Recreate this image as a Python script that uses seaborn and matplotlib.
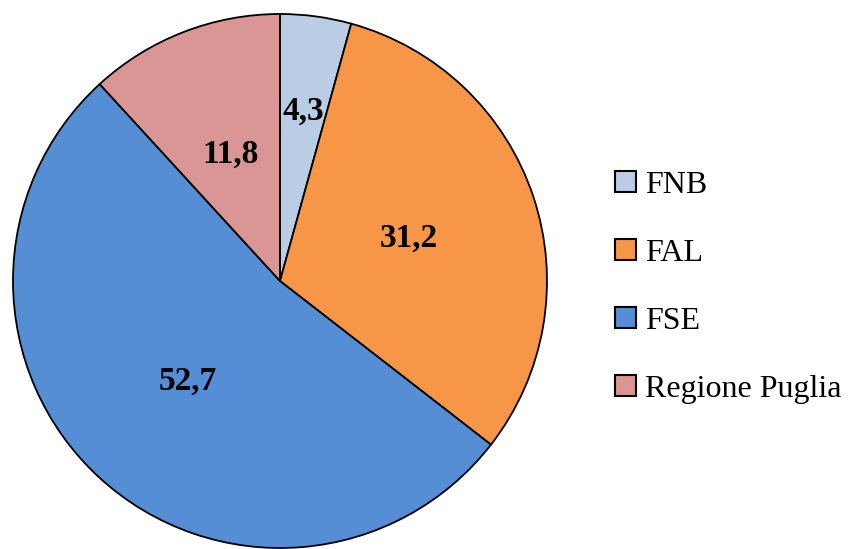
import numpy as np
import matplotlib
matplotlib.use("Agg")
import matplotlib.pyplot as plt
import seaborn as sns
from matplotlib.patches import Patch

# data
categories = ["FNB", "FAL", "FSE", "Regione Puglia"]
shares = [4.3, 31.2, 52.7, 11.8]
colors = ["#B9CDE5", "#F79646", "#558ED5", "#D99694"]
label_text = ["4,3", "31,2", "52,7", "11,8"]

sns.set_theme(style="white")
plt.rcParams['font.family'] = ['Liberation Serif', 'DejaVu Serif']
plt.rcParams['text.color'] = 'black'

fig = plt.figure(figsize=(8.6, 5.49), dpi=100)
ax = fig.add_axes([13 / 860, 1 / 549, 534 / 860, 534 / 549])

wedges, _ = ax.pie(shares, colors=colors, startangle=90, counterclock=False,
                   radius=1,
                   wedgeprops=dict(edgecolor="black", linewidth=1.3))
for w in wedges:
    w.set_clip_on(False)

# value labels inside the wedges
for i, w in enumerate(wedges):
    mid = np.deg2rad((w.theta1 + w.theta2) / 2)
    dist = 0.64 if i == 0 else 0.51
    ax.text(dist * np.cos(mid), dist * np.sin(mid), label_text[i],
            ha="center", va="center", fontsize=24, fontweight="bold", color="black")

ax.set_xlim(-1, 1)
ax.set_ylim(-1, 1)
ax.set_aspect("equal")
ax.axis("off")

handles = [Patch(facecolor=c, edgecolor="black", linewidth=1.5) for c in colors]
leg = fig.legend(handles, categories, loc="center left", bbox_to_anchor=(615 / 860, 0.4765),
                 frameon=False, fontsize=23, handlelength=0.65, handleheight=0.65,
                 handletextpad=0.3, labelspacing=1.22, borderpad=0, borderaxespad=0)
for t in leg.get_texts():
    t.set_color("black")

fig.savefig("out.png", dpi=100)
